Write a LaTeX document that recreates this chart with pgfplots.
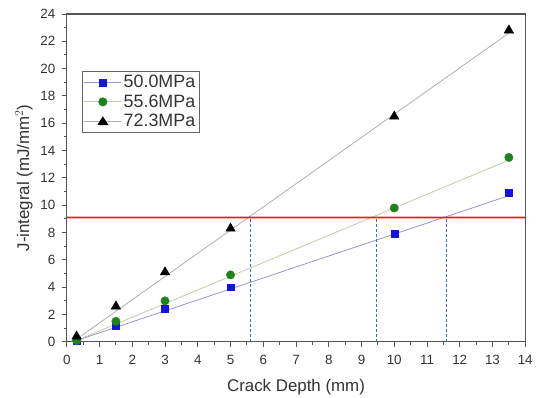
\documentclass[border=0pt]{standalone}
\usepackage{fontspec}
\setmainfont{Liberation Sans}
\usepackage{pgfplots}
\pgfplotsset{compat=1.18}
\definecolor{axgray}{RGB}{85,85,85}
\definecolor{mblue}{RGB}{20,20,220}
\definecolor{mgreen}{RGB}{30,130,30}
\definecolor{lblue}{RGB}{150,150,215}
\definecolor{lgreen}{RGB}{200,200,170}
\definecolor{lblack}{RGB}{175,175,175}
\definecolor{dblue}{RGB}{60,110,210}
\definecolor{redline}{RGB}{230,30,30}
\begin{document}
\begin{tikzpicture}
\begin{axis}[
  scale only axis,
  width=460bp, height=329bp,
  xmin=0, xmax=14, ymin=0, ymax=24,
  xtick={0,1,...,14}, ytick={0,2,...,24},
  minor x tick num=1, minor y tick num=1,
  tick align=outside,
  xtick pos=bottom, ytick pos=left,
  major tick length=5bp, minor tick length=3bp,
  axis line style={axgray, line width=1.3bp},
  tick style={axgray, line width=0.9bp},
  /pgf/number format/assume math mode=true,
  ticklabel style={font=\fontsize{13.5}{15}\selectfont, text=black!80},
  xticklabel style={yshift=-5bp},
  yticklabel style={xshift=-3bp},
  xlabel={Crack Depth (mm)},
  ylabel={J-integral (mJ/mm$^2$)},
  every axis x label/.style={at={(rel axis cs:0.5,0)}, yshift=-45bp, anchor=center,
    font=\fontsize{17}{19}\selectfont, text=black!80},
  every axis y label/.style={at={(rel axis cs:0,0.5)}, xshift=-43bp, rotate=90, anchor=center,
    font=\fontsize{17}{19}\selectfont, text=black!80},
  legend style={at={(rel axis cs:0.0326,0.827)}, anchor=north west,
    font=\fontsize{18}{20}\selectfont, draw=black!60, line width=0.6bp,
    row sep=1.5bp, inner xsep=2bp, inner ysep=2.5bp, text=black!80},
  legend cell align=left,
]
% fitted lines (drawn first, not in legend)
\addplot[lblue, line width=0.8bp, forget plot] coordinates {(0.3,0.1) (13.5,10.7)};
\addplot[lgreen, line width=0.8bp, forget plot] coordinates {(0.3,0.1) (13.5,13.3)};
\addplot[lblack, line width=0.8bp, forget plot] coordinates {(0.3,0.2) (13.5,22.6)};
% dashed verticals
\addplot[draw=dblue, dash pattern=on 3bp off 2bp, line width=0.8bp, forget plot] coordinates {(5.6,0) (5.6,9.1)};
\addplot[draw=dblue, dash pattern=on 3bp off 2bp, line width=0.8bp, forget plot] coordinates {(9.45,0) (9.45,9.1)};
\addplot[draw=dblue, dash pattern=on 3bp off 2bp, line width=0.8bp, forget plot] coordinates {(11.6,0) (11.6,9.1)};
% red threshold line (thin filled band)
\addplot[fill=redline, draw=none, forget plot] coordinates {(0,9.04) (14,9.04) (14,9.16) (0,9.16) (0,9.04)};
% markers
\addplot[only marks, mark=square*, mark size=3.5bp, mblue, mark options={fill=mblue, draw=mblue},
  legend image code/.code={\draw[lblue, line width=0.8bp] (0bp,0bp) -- (37bp,0bp);
    \fill[mblue] (15bp,-3.5bp) rectangle (22bp,3.5bp);}]
  coordinates {(0.3,0.1) (1.5,1.2) (3,2.4) (5,4.0) (10,7.9) (13.5,10.9)};
\addlegendentry{50.0MPa}
\addplot[only marks, mark=*, mark size=4.2bp, mgreen, mark options={fill=mgreen, draw=mgreen},
  legend image code/.code={\draw[lgreen, line width=0.8bp] (0bp,0bp) -- (37bp,0bp);
    \fill[mgreen] (18.5bp,0bp) circle (4.2bp);}]
  coordinates {(0.3,0.1) (1.5,1.5) (3,3.0) (5,4.9) (10,9.8) (13.5,13.5)};
\addlegendentry{55.6MPa}
\addplot[only marks, mark=triangle*, mark size=5.5bp, black, mark options={fill=black},
  legend image code/.code={\draw[lblack, line width=0.8bp] (0bp,0bp) -- (37bp,0bp);
    \fill[black] (18.5bp,4.5bp) -- (23.5bp,-3.5bp) -- (13.5bp,-3.5bp) -- cycle;}]
  coordinates {(0.3,0.4) (1.5,2.6) (3,5.1) (5,8.3) (10,16.5) (13.5,22.8)};
\addlegendentry{72.3MPa}
\end{axis}
\path ([xshift=-67bp,yshift=-54bp]current axis.south west) rectangle ([xshift=9bp,yshift=14bp]current axis.north east);
\end{tikzpicture}
\end{document}
